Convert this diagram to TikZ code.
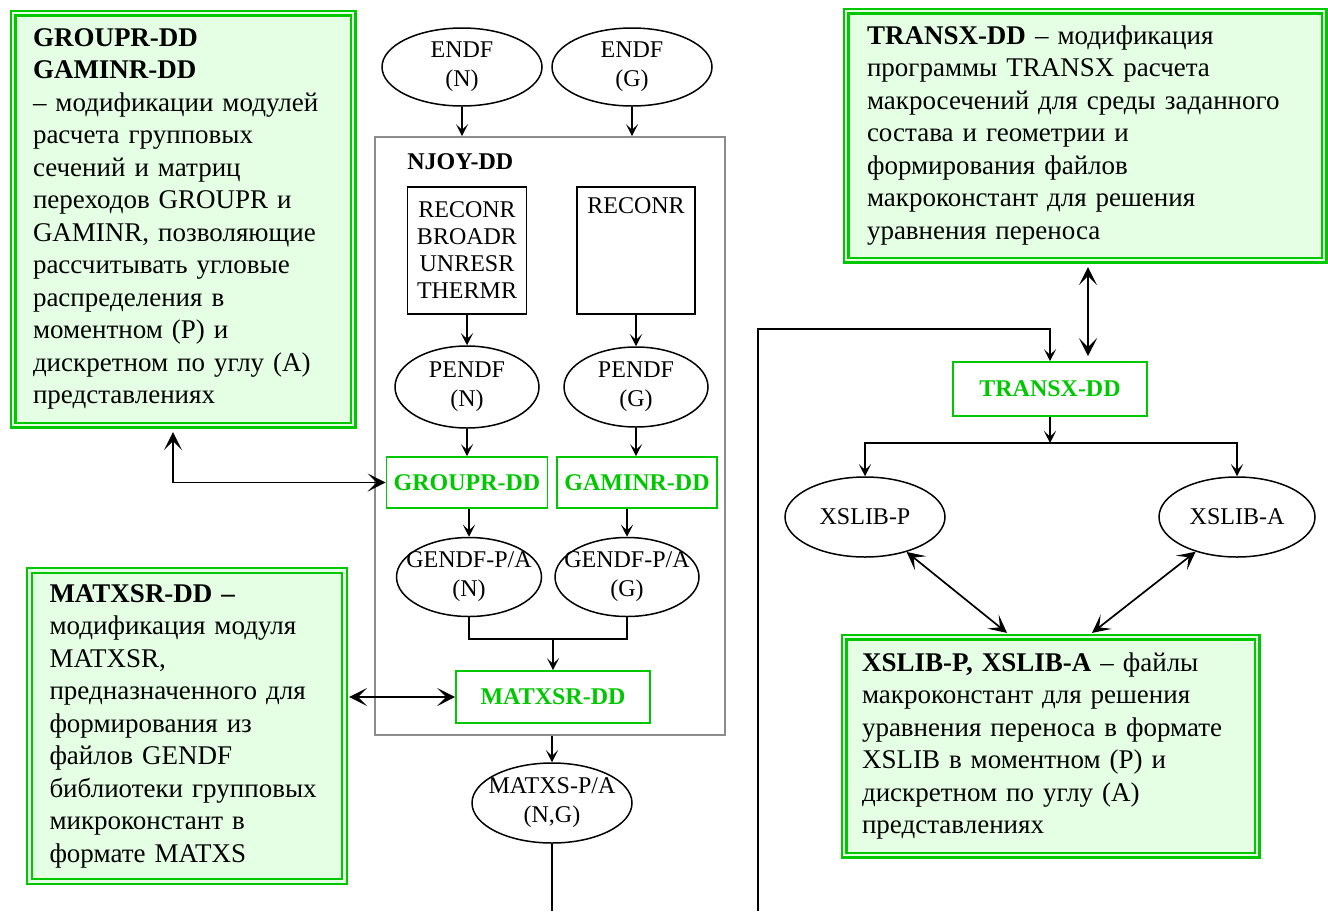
\documentclass[tikz,border=0pt]{standalone}
\usepackage{fontspec}
\setmainfont{Liberation Serif}
\usetikzlibrary{shapes.geometric,arrows.meta}
\definecolor{gr}{RGB}{0,200,0}
\definecolor{lg}{RGB}{228,255,228}
\definecolor{njgray}{RGB}{140,140,140}
\tikzset{
 desc/.style={draw=gr, line width=1.1pt, double=lg, double distance=1.3pt, fill=lg, align=left, inner xsep=10pt, inner ysep=0pt, font=\fontsize{13.5}{16.25}\selectfont},
 ell/.style={draw, ellipse, line width=0.75pt, inner sep=-8pt, align=center, font=\fontsize{12}{14.5}\selectfont},
 gbox/.style={draw=gr, line width=0.8pt, inner sep=0pt, font=\bfseries\fontsize{12}{14}\selectfont, text=gr},
 mbox/.style={draw, line width=0.8pt, inner sep=0pt, align=center, font=\fontsize{12}{13.5}\selectfont},
 arr/.style={-{Stealth[length=6pt,width=6pt,inset=2.8pt]}, line width=0.75pt},
 darr/.style={{Stealth[length=9pt,width=9pt,inset=4.5pt]}-{Stealth[length=9pt,width=9pt,inset=4.5pt]}, line width=0.85pt},
}
\begin{document}
\begin{tikzpicture}[x=0.5pt,y=-0.5pt]
\useasboundingbox (0,0) rectangle (1328,911);
% NJOY frame
\node[draw=njgray, line width=0.8pt, minimum width=175pt, minimum height=299pt, inner sep=0pt] (njoy) at (550,436) {};
\node[font=\bfseries\fontsize{12}{14}\selectfont, anchor=west, inner sep=0pt] (njoylbl) at (407,162) {NJOY-DD};
% description boxes
\node[desc, text width=150pt, minimum width=170pt, minimum height=206pt] (grdesc) at (183,219) {\textbf{GROUPR-DD}\\
\textbf{GAMINR-DD}\\
– модификации модулей\\
расчета групповых\\
сечений и матриц\\
переходов GROUPR и\\
GAMINR, позволяющие\\
рассчитывать угловые\\
распределения в\\
моментном (P) и\\
дискретном по углу (A)\\
представлениях};
\node[desc, text width=137.5pt, minimum width=157.5pt, minimum height=155.5pt] (mxdesc) at (187,726) {\textbf{MATXSR-DD –}\\
модификация модуля\\
MATXSR,\\
предназначенного для\\
формирования из\\
файлов GENDF\\
библиотеки групповых\\
микроконстант в\\
формате MATXS};
\node[desc, inner xsep=10.5pt, text width=218pt, minimum width=239pt, minimum height=124.5pt] (trdesc) at (1085,135.5) {\textbf{TRANSX-DD} – модификация\\
программы TRANSX расчета\\
макросечений для среды заданного\\
состава и геометрии и\\
формирования файлов\\
макроконстант для решения\\
уравнения переноса};
\node[desc, inner xsep=9pt, text width=188.5pt, minimum width=206.5pt, minimum height=109pt] (xsdesc) at (1050.5,746) {\textbf{XSLIB-P, XSLIB-A} – файлы\\
макроконстант для решения\\
уравнения переноса в формате\\
XSLIB в моментном (P) и\\
дискретном по углу (A)\\
представлениях};
% ellipses
\node[ell, minimum width=80pt, minimum height=39pt] (endfn) at (462,67) {ENDF\\(N)};
\node[ell, minimum width=80pt, minimum height=39pt] (endfg) at (632,67) {ENDF\\(G)};
\node[ell, minimum width=72pt, minimum height=41pt] (pendfn) at (467,387) {PENDF\\(N)};
\node[ell, minimum width=72pt, minimum height=40pt] (pendfg) at (636,387) {PENDF\\(G)};
\node[ell, minimum width=72.5pt, minimum height=39.5pt] (gendfn) at (469,577) {GENDF-P/A\\(N)};
\node[ell, minimum width=72pt, minimum height=39.5pt] (gendfg) at (627,577) {GENDF-P/A\\(G)};
\node[ell, minimum width=80pt, minimum height=40pt] (matxs) at (552,803) {MATXS-P/A\\(N,G)};
\node[ell, minimum width=80pt, minimum height=40pt] (xslibp) at (865,517) {XSLIB-P};
\node[ell, minimum width=78pt, minimum height=40pt] (xsliba) at (1237,517) {XSLIB-A};
% module boxes
\node[mbox, minimum width=59.5pt, minimum height=63.5pt] (recl) at (467,250.5) {RECONR\\BROADR\\UNRESR\\THERMR};
\node[mbox, minimum width=59pt, minimum height=63.5pt] (recr) at (636,250.5) {RECONR\\\strut\\\strut\\\strut};
\node[gbox, minimum width=80.5pt, minimum height=25.5pt] (groupr) at (467,482.5) {GROUPR-DD};
\node[gbox, minimum width=80pt, minimum height=25.5pt] (gaminr) at (637,482.5) {GAMINR-DD};
\node[gbox, minimum width=97pt, minimum height=26pt] (matxsr) at (553,697) {MATXSR-DD};
\node[gbox, minimum width=97pt, minimum height=27pt] (transx) at (1050,389) {TRANSX-DD};
% coordinates
\coordinate (merge) at (553,639);
\coordinate (mbot) at (552,911);
\coordinate (lbot) at (758,911);
\coordinate (lc) at (1050,329);
\coordinate (split) at (1050,443);
% flow arrows
\draw[arr] (endfn) -- (endfn |- njoy.north);
\draw[arr] (endfg) -- (endfg |- njoy.north);
\draw[arr] (recl) -- (pendfn);
\draw[arr] (recr) -- (pendfg);
\draw[arr] (pendfn) -- (groupr);
\draw[arr] (pendfg.south) -- (pendfg.south |- gaminr.north);
\draw[arr] (gendfn |- groupr.south) -- (gendfn.north);
\draw[arr] (gendfg |- gaminr.south) -- (gendfg.north);
\draw[line width=0.75pt] (gendfn.south) |- (merge) -| (gendfg.south);
\draw[arr] (merge) -- (matxsr.north);
\draw[arr] (matxs |- njoy.south) -- (matxs.north);
\draw[line width=0.75pt] (matxs.south) -- (mbot);
\draw[arr] (lbot) |- (lc) -- (transx.north);
\draw[arr] (transx.south) -- (split);
\draw[arr] (split) -| (xslibp.north);
\draw[arr] (split) -| (xsliba.north);
% double arrows
\draw[darr] (xslibp.-40) -- ([xshift=-21.75pt,yshift=1.5pt]xsdesc.north);
\draw[darr] (xsliba.-140) -- ([xshift=20.75pt,yshift=1.5pt]xsdesc.north);
\draw[darr] ([xshift=1.5pt,yshift=-3pt]trdesc.south) -- ([xshift=19pt,yshift=2.5pt]transx.north);
\draw[darr] ([xshift=-5pt,yshift=-3pt]grdesc.south) |- (groupr.west);
\path (mxdesc.east |- matxsr.west) coordinate (mxa);
\draw[darr] ([xshift=1.75pt]mxa) -- (matxsr.west);
\end{tikzpicture}
\end{document}
